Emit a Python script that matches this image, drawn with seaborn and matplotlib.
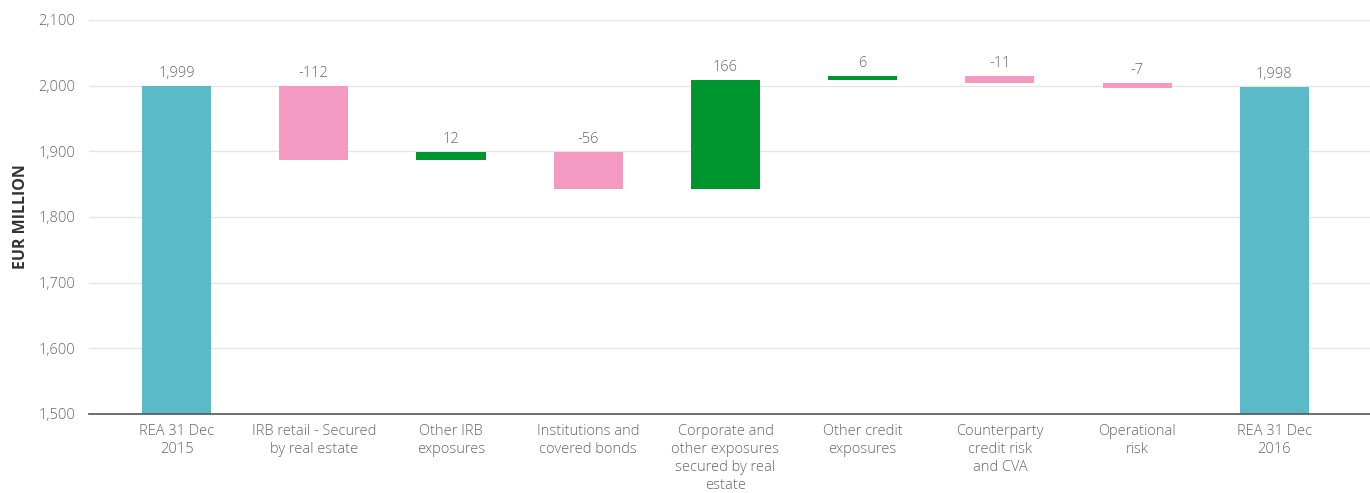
import matplotlib
matplotlib.use("Agg")
import matplotlib.pyplot as plt
import seaborn as sns
import numpy as np
import pandas as pd

categories = ["REA 31 Dec\n2015", "IRB retail - Secured\nby real estate", "Other IRB\nexposures",
              "Institutions and\ncovered bonds", "Corporate and\nother exposures\nsecured by real\nestate",
              "Other credit\nexposures", "Counterparty\ncredit risk\nand CVA", "Operational\nrisk",
              "REA 31 Dec\n2016"]
changes = [1999, -112, 12, -56, 166, 6, -11, -7, 1998]
labels = ["1,999", "-112", "12", "-56", "166", "6", "-11", "-7", "1,998"]
kinds = ["total", "delta", "delta", "delta", "delta", "delta", "delta", "delta", "total"]
y_ticks = [1500, 1600, 1700, 1800, 1900, 2000, 2100]

TEAL = "#5bbac8"
PINK = "#f49ac2"
GREEN = "#00962f"

# compute waterfall spans
bottoms, heights, colors, tops = [], [], [], []
running = 0
for v, k in zip(changes, kinds):
    if k == "total":
        b, h = 1500, v - 1500
        running = v
        colors.append(TEAL)
        top = v
    else:
        start = running
        end = running + v
        b, h = min(start, end), abs(v)
        running = end
        colors.append(GREEN if v > 0 else PINK)
        top = max(start, end)
    bottoms.append(b)
    heights.append(h)
    tops.append(top)

df = pd.DataFrame({"cat": categories, "h": heights})

sns.set_theme(style="white")
plt.rcParams["font.family"] = ["Open Sans", "DejaVu Sans"]

fig = plt.figure(figsize=(13.7, 4.93), dpi=100)
ax = fig.add_axes([89 / 1370, 1 - 414 / 493, 1 - 89 / 1370, (414 - 20) / 493])

sns.barplot(data=df, x="cat", y="h", ax=ax, width=0.503, color=TEAL, saturation=1)
for p, b, h, c in zip(ax.patches, bottoms, heights, colors):
    p.set_y(b)
    p.set_height(h)
    p.set_facecolor(c)
    p.set_edgecolor("none")

for i, (t, lab) in enumerate(zip(tops, labels)):
    ax.annotate(lab, (i, t), xytext=(0, 3.5), textcoords="offset points",
                ha="center", va="bottom", fontsize=10.5, color="#666666", fontweight="light")

ax.set_ylim(1500, 2100)
ax.set_xlim(-0.638, 8.697)
ax.set_yticks(y_ticks)
ax.set_yticklabels([f"{v:,}" for v in y_ticks], fontsize=10.5, color="#666666", fontweight="light")
ax.set_xticks(range(len(categories)))
ax.set_xticklabels(categories, fontsize=10.5, color="#666666", fontweight="light", linespacing=1.28, va="top")
ax.tick_params(axis="x", length=0, pad=7)
ax.tick_params(axis="y", length=0, pad=10)
ax.yaxis.grid(True, color="#e6e6e6", linewidth=1)
ax.set_axisbelow(True)
for s in ["top", "right", "left"]:
    ax.spines[s].set_visible(False)
ax.spines["bottom"].set_color("#555555")
ax.spines["bottom"].set_linewidth(1.2)
ax.set_xlabel("")
ax.set_ylabel("EUR MILLION", fontsize=11.5, fontweight="bold", color="#333333")
ax.yaxis.set_label_coords(-0.047, 0.5)

fig.savefig("out.png", dpi=100)
